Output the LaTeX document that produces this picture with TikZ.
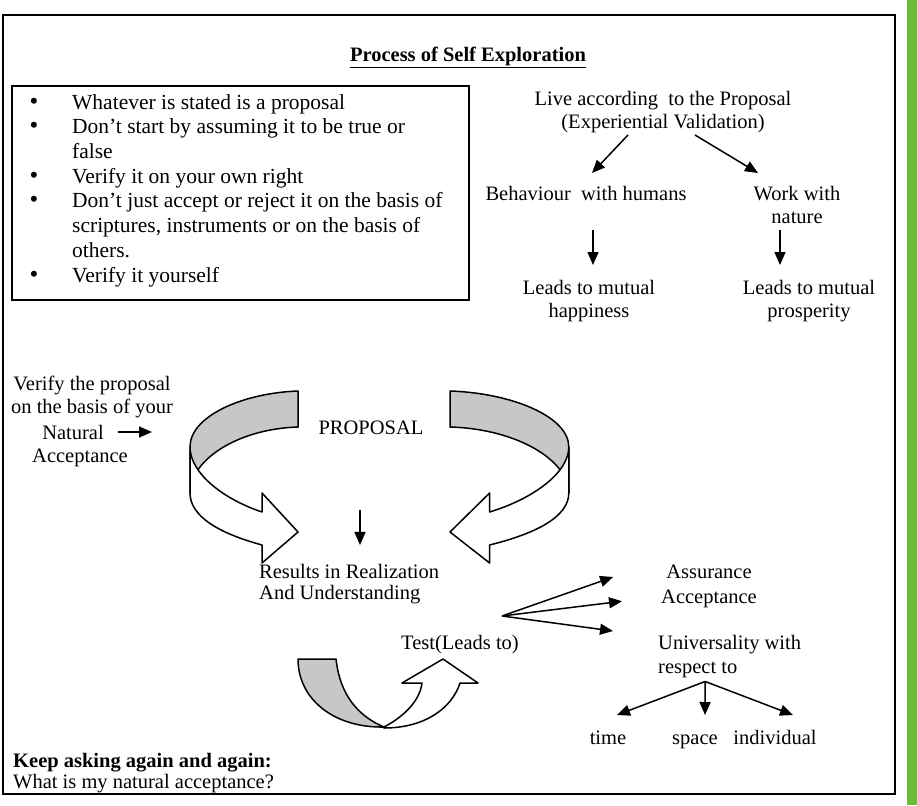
\documentclass[tikz,border=0pt]{standalone}
\usepackage{fontspec}
\setmainfont{Liberation Serif}
\usetikzlibrary{arrows.meta, positioning}
\definecolor{barGreen}{RGB}{108,187,58}
\newcommand{\rulebul}{\makebox[42.5pt][l]{\fontsize{25}{24.7}\selectfont\textbullet}}
\newcommand{\rulecont}{\hspace*{42.5pt}}
\tikzset{
  txt/.style   ={align=center, inner sep=0pt, font=\fontsize{20.5}{23}\selectfont},
  ttl/.style   ={inner sep=0pt, font=\bfseries\fontsize{20.5}{23}\selectfont},
  lst/.style   ={align=left, inner sep=0pt, font=\fontsize{21.5}{24.7}\selectfont},
  frm/.style   ={draw, line width=1.6pt},
  fl/.style    ={-{Triangle[length=13pt,width=11pt]}, line width=1.5pt},
  rib/.style   ={draw, line width=1.5pt, line join=round},
  ribin/.style ={rib, fill=black!22},
  ribout/.style={rib, fill=white},
  halfloop/.pic={
    \path[ribin] (0,0) .. controls (-55,2) and (-108,25) .. (-108,56) -- (-108,102)
      .. controls (-108,70) and (-62,38) .. (0,36) -- cycle;
    \path[ribout] (-108,56) .. controls (-108,82) and (-75,108) .. (-36,121) -- (-36,102)
      -- (0,141) -- (-36,172) -- (-36,154) .. controls (-80,142) and (-108,125) .. (-108,102) -- cycle;
  },
}

\begin{document}
\begin{tikzpicture}[x=1pt, y=-1pt]
  \useasboundingbox (0,0) rectangle (917,805);
  \fill[barGreen] (907,0) rectangle (917,805);
  \draw[frm] (3,15) rectangle (895,794);

  \node[ttl] (title) at (468,57) {\underline{Process of Self Exploration}};

  % rules
  \draw[frm, line width=1.4pt] (12,86) rectangle (469,300);
  \node[lst, anchor=north west] (rules) at (29.5,91.7) {\strut\rulebul Whatever is stated is a proposal\\
    \rulebul Don't start by assuming it to be true or\\
    \rulecont false\\
    \rulebul Verify it on your own right\\
    \rulebul Don't just accept or reject it on the basis of\\
    \rulecont scriptures, instruments or on the basis of\\
    \rulecont others.\\
    \rulebul Verify it yourself};

  % experiential validation
  \node[txt] (live) at (663,112) {Live according\ \ to the Proposal\\(Experiential Validation)};
  \node[txt] (beh) at (586,193) {Behaviour\ \ with humans};
  \node[txt] (work) at (797,205) {Work with\\nature};
  \node[txt] (hap) at (589,301) {Leads to mutual\\happiness};
  \node[txt] (pros) at (809,301) {Leads to mutual\\prosperity};
  \draw[fl] ([shift={(-35,23)}]live.center) -- ([shift={(6,-20)}]beh.center);
  \draw[fl] ([shift={(32,23)}]live.center) -- ([shift={(-39,-32)}]work.center);
  \draw[fl] ([shift={(7,37)}]beh.center) -- ([shift={(4,-36)}]hap.center);
  \draw[fl] ([shift={(-17,25)}]work.center) -- ([shift={(-29,-36)}]pros.center);

  % proposal loop
  \pic at (298,391) {halfloop};
  \pic[xscale=-1.1] at (450,391) {halfloop};
  \node[txt] (prop) at (371,428) {PROPOSAL};
  \node[txt] (ver) at (92,397) {Verify the proposal\\on the basis of your};
  \node[txt] (nat) at (73,432) {Natural};
  \node[txt] (acc) at (80,458) {Acceptance};
  \coordinate (natend) at (152,432);
  \draw[fl] ([xshift=14pt]nat.east) -- (natend);

  \node[txt, align=left, anchor=west, font=\fontsize{20.5}{21}\selectfont] (res) at (259,584)
    {Results in Realization\\And Understanding};
  \coordinate (dtop) at (360,510);
  \draw[fl] (dtop) -- ([yshift=19pt]dtop |- res.north);

  % test
  \node[txt] (test) at (460,645) {Test(Leads to)};
  \path[ribin] (298,659) -- (336,659) .. controls (340,695) and (358,716) .. (384,727)
    .. controls (335,728) and (298,700) .. (298,659) -- cycle;
  \path[ribout] (384,727) .. controls (405,716) and (420,700) .. (422,683) -- (402,683)
    -- (443,659) -- (478,683) -- (460,683) .. controls (452,708) and (425,728) .. (384,728) -- cycle;

  \node[txt] (asu) at (709,572) {Assurance};
  \node[txt, below=11pt of asu] (acp) {Acceptance};
  \node[txt, align=left, anchor=west, font=\fontsize{20.5}{24}\selectfont] (uni) at (658,657)
    {Universality with\\respect to};
  \coordinate (fan) at (502,616);
  \draw[fl] (fan) -- ([shift={(-53,5)}]asu.west);
  \draw[fl] (fan) -- ([shift={(-39,2)}]acp.west);
  \draw[fl] (fan) -- ([shift={(-45,-26)}]uni.west);

  \node[txt, anchor=base] (time) at (608,744) {time};
  \node[txt, anchor=base] (space) at (695,744) {space};
  \node[txt, anchor=base] (indiv) at (775,744) {individual};
  \coordinate (uroot) at ([shift={(-24.5,3)}]uni.south);
  \draw[fl] (uroot) -- ([shift={(9,-29)}]time.base);
  \draw[fl] (uroot) -- ([shift={(10,-29)}]space.base);
  \draw[fl] (uroot) -- ([shift={(18,-29)}]indiv.base);

  % bottom question
  \node[txt, anchor=base west, font=\bfseries\fontsize{20.5}{23}\selectfont] (keep) at (13,767)
    {Keep asking again and again:};
  \node[txt, anchor=base west] (quest) at (13,788) {What is my natural acceptance?};
\end{tikzpicture}
\end{document}
